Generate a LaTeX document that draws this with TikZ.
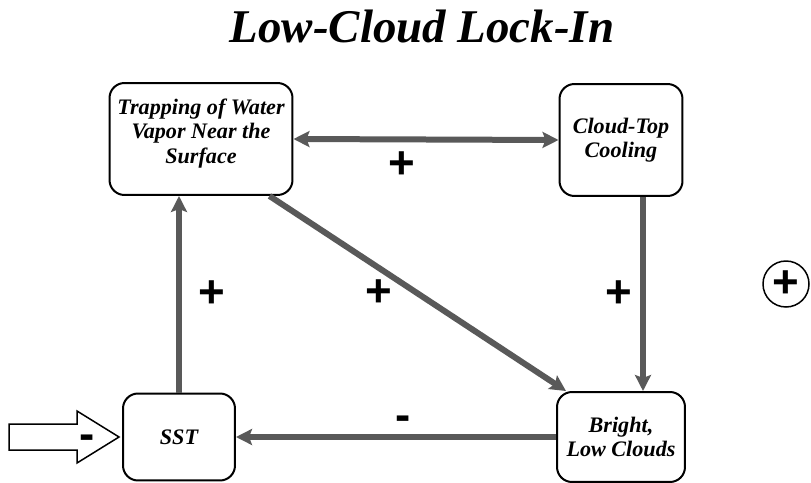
\documentclass[tikz,border=0pt]{standalone}
\usepackage{fontspec}
\setmainfont{Liberation Serif}
\newfontfamily\signfont{Liberation Sans}
\usetikzlibrary{arrows.meta, calc, positioning}
\tikzstyle{procBox} = [draw, rounded corners=0.3cm, line width=0.4mm, align=center, inner sep=2pt, font=\fontsize{12.6}{13.8}\selectfont\bfseries\itshape]
\tikzstyle{fbArrow} = [line width=1.2mm, color=black!65]
\tikzstyle{signLbl} = [font=\fontsize{26}{26}\selectfont\signfont\bfseries, inner sep=0pt, color=black]

\begin{document}
\begin{tikzpicture}[x=0.02cm, y=-0.02cm, >={Stealth[length=0.32cm, width=0.32cm, inset=0.06cm]}]
        \useasboundingbox (0,0) rectangle (811,483);
        % Title
        \node [font=\fontsize{26.7}{30}\selectfont\bfseries\itshape, anchor=base] (title) at (422,43) {Low-Cloud Lock-In};

        % Nodes
        \node [procBox, minimum width=3.66cm, minimum height=2.24cm] (trap) at (201,139) {Trapping of Water\\Vapor Near the\\Surface\\[-0.17cm]\mbox{}};
        \node [procBox, minimum width=2.46cm, minimum height=2.24cm] (cool) at (621,140) {Cloud-Top\\Cooling};
        \node [procBox, minimum width=2.24cm, minimum height=1.74cm] (sst) at (179,437) {SST};
        \node [procBox, minimum width=2.56cm, minimum height=1.8cm] (bright) at (621,437) {Bright,\\Low Clouds};

        \node [draw, circle, line width=0.3mm, minimum size=0.92cm, signLbl] (net) at (786,284) {+};

        % Lines
        \draw [fbArrow, <->] (trap.east) -- node[signLbl, pos=0.41, yshift=-0.52cm] (pTop) {+} (cool.west);
        \draw [fbArrow, ->] (sst.north) -- node[signLbl, xshift=0.66cm] (pLeft) {+} (sst.north |- trap.south);
        \draw [fbArrow, ->] ($(trap.south east)+(-24,0)$) -- node[signLbl, xshift=-0.78cm] (pDiag) {+} ($(bright.north west)+(10,0)$);
        \draw [fbArrow, ->] ($(cool.south)+(22,0)$) -- node[signLbl, xshift=-0.48cm] (pRight) {+} ($(bright.north)+(22,0)$);
        \draw [fbArrow, ->] (bright.west) -- node[signLbl, pos=0.478, yshift=0.27cm] (mBottom) {-} (sst.west -| sst.east);

        % Forcing arrow
        \coordinate (inTip) at ($(sst.west)+(-3,0)$);
        \draw [line width=0.3mm, fill=white] (inTip) -- ++(-42,26) -- ++(0,-13) -- ++(-68,0) -- ++(0,-26) -- ++(68,0) -- ++(0,-13) -- cycle;
        \node [signLbl] (mIn) at ($(inTip)+(-32,5)$) {-};
\end{tikzpicture}
\end{document}
